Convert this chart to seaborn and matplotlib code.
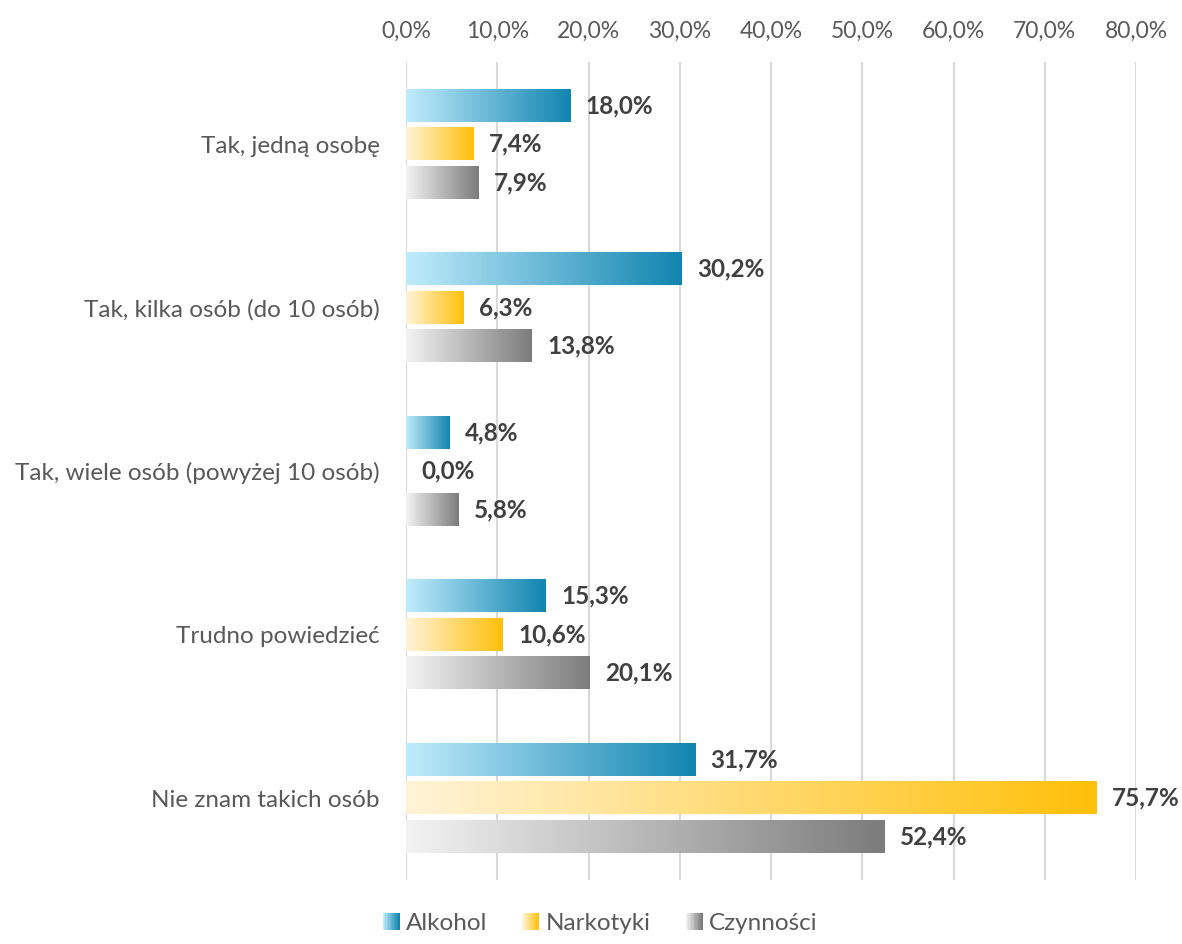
import numpy as np
import pandas as pd
import matplotlib
matplotlib.use('Agg')
import matplotlib.pyplot as plt
import seaborn as sns
from matplotlib.colors import LinearSegmentedColormap
from matplotlib.legend_handler import HandlerBase
from matplotlib.patches import Rectangle

categories = ['Tak, jedną osobę', 'Tak, kilka osób (do 10 osób)',
              'Tak, wiele osób (powyżej 10 osób)', 'Trudno powiedzieć',
              'Nie znam takich osób']
series = ['Alkohol', 'Narkotyki', 'Czynności']
alkohol = [18.0, 30.2, 4.8, 15.3, 31.7]
narkotyki = [7.4, 6.3, 0.0, 10.6, 75.7]
czynnosci = [7.9, 13.8, 5.8, 20.1, 52.4]
x_ticks = [0, 10, 20, 30, 40, 50, 60, 70, 80]

# gradient start/end colours per series
gradients = {
    'Alkohol': ('#C0ECFC', '#1285B0'),
    'Narkotyki': ('#FFF4D8', '#FFC00A'),
    'Czynności': ('#F3F3F3', '#7C7C7C'),
}

df = pd.DataFrame({
    'kategoria': categories * 3,
    'seria': [s for s in series for _ in categories],
    'wartosc': alkohol + narkotyki + czynnosci,
})

sns.set_style('white')
plt.rcParams['font.family'] = ['Lato', 'DejaVu Sans']

fig = plt.figure(figsize=(11.82, 9.44), dpi=100)
ax = fig.add_axes([0.3435, 0.068, 0.6176, 0.866])

sns.barplot(data=df, y='kategoria', x='wartosc', hue='seria', order=categories,
            hue_order=series, orient='h', width=0.705, gap=0.15, ax=ax,
            legend=False, errorbar=None)

label_color = '#404040'
for name, cont in zip(series, ax.containers):
    cmap = LinearSegmentedColormap.from_list(name, gradients[name])
    grad = np.linspace(0, 1, 256).reshape(1, -1)
    for p in cont.patches:
        x0, y0 = p.get_x(), p.get_y()
        w, h = p.get_width(), p.get_height()
        p.set_visible(False)
        if w > 0:
            ax.imshow(grad, extent=[x0, x0 + w, y0 + h, y0], aspect='auto',
                      cmap=cmap, zorder=2, interpolation='bicubic')
    vals = [p.get_width() for p in cont.patches]
    ax.bar_label(cont, labels=[f'{v:.1f}%'.replace('.', ',') for v in vals],
                 padding=11, fontsize=17.5, fontweight='bold', color=label_color)

ax.set_xlim(0, 80)
ax.set_ylim(4.5, -0.5)
ax.set_xticks(x_ticks)
ax.set_xticklabels([f'{t:.1f}%'.replace('.', ',') for t in x_ticks])
ax.xaxis.tick_top()
ax.tick_params(axis='x', length=0, pad=15, labelsize=16.5, labelcolor='#595959')
ax.tick_params(axis='y', length=0, pad=19, labelsize=17.5, labelcolor='#595959')
ax.set_xlabel('')
ax.set_ylabel('')
ax.grid(axis='x', color='#D9D9D9', linewidth=1.5, zorder=0)
ax.set_axisbelow(True)
for s in ax.spines.values():
    s.set_visible(False)


class GradientHandler(HandlerBase):
    def __init__(self, c0, c1):
        super().__init__()
        self.c0, self.c1 = c0, c1

    def create_artists(self, legend, orig_handle, xdescent, ydescent,
                       width, height, fontsize, trans):
        cmap = LinearSegmentedColormap.from_list('g', [self.c0, self.c1])
        n = 12
        side = height * 1.0
        x_start = width - side
        arts = []
        for i in range(n):
            r = Rectangle((x_start - xdescent + i * side / n, -ydescent),
                          side / n + 0.05, side, facecolor=cmap(i / (n - 1)),
                          edgecolor='none', transform=trans)
            arts.append(r)
        return arts


handles = [Rectangle((0, 0), 1, 1) for _ in series]
fig.legend(handles, series, loc='center', bbox_to_anchor=(0.507, 0.022),
           ncol=3, frameon=False, fontsize=17.5, labelcolor='#595959',
           handlelength=0.75, handletextpad=0.25, columnspacing=1.4,
           handler_map={h: GradientHandler(*gradients[s]) for h, s in zip(handles, series)})

fig.savefig('out.png', dpi=100)
